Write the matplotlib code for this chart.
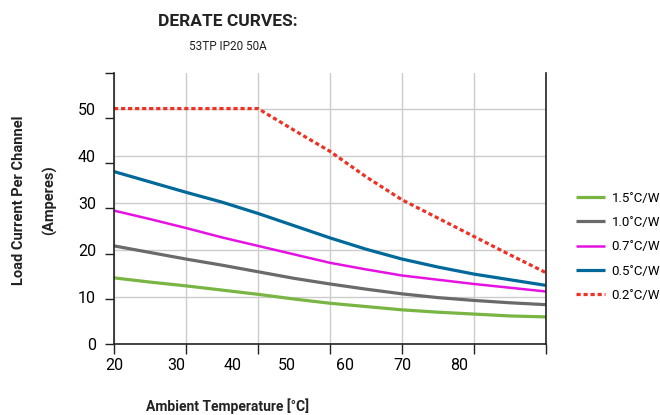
import matplotlib
matplotlib.use("Agg")
import matplotlib.pyplot as plt
from matplotlib import font_manager

# ---- data ----
temps = [20, 25, 30, 35, 40, 45, 50, 55, 60, 65, 70, 75, 80]
s15 = [14.0, 13.1, 12.3, 11.4, 10.5, 9.5, 8.6, 7.9, 7.2, 6.7, 6.3, 5.9, 5.7]
s10 = [20.8, 19.4, 18.0, 16.7, 15.3, 13.9, 12.7, 11.6, 10.6, 9.8, 9.2, 8.7, 8.3]
s07 = [28.3, 26.5, 24.6, 22.6, 20.8, 19.0, 17.2, 15.8, 14.5, 13.6, 12.7, 11.9, 11.1]
s05 = [36.6, 34.4, 32.2, 30.1, 27.7, 25.1, 22.5, 20.1, 18.0, 16.3, 14.8, 13.6, 12.4]
s02 = [50.0, 50.0, 50.0, 50.0, 50.0, 45.4, 40.9, 35.5, 30.6, 26.7, 22.8, 18.9, 15.1]
series_labels = ["1.5˚C/W", "1.0˚C/W", "0.7˚C/W", "0.5˚C/W", "0.2˚C/W"]
grid_x = [20, 30, 40, 50, 60, 70, 80]
x_tick_labels = ["20", "30", "40", "50", "60", "70", "80"]
x_label_pos = [20, 28.6, 36.4, 44.0, 52.1, 60.0, 68.0]
y_tick_vals = [0, 10, 20, 30, 40, 50]

names = {f.name for f in font_manager.fontManager.ttflist}
cond = "Liberation Sans Narrow" if "Liberation Sans Narrow" in names else "Roboto"
fam = [cond, "DejaVu Sans"]
plt.rcParams["font.family"] = fam

fig = plt.figure(figsize=(6.6, 4.15), dpi=100)
ax = fig.add_axes([114/660, 1-343.7/415, (546-114)/660, (343.7-73.3)/415])

ax.set_xlim(20, 80)
ax.set_ylim(0, 57.5)

colors = ["#79b543", "#6a6a6a", "#e512e3", "#00699a", "#ee3124"]
ax.plot(temps, s15, color=colors[0], lw=2.3, label=series_labels[0], solid_capstyle="butt")
ax.plot(temps, s10, color=colors[1], lw=2.3, label=series_labels[1], solid_capstyle="butt")
ax.plot(temps, s07, color=colors[2], lw=1.8, label=series_labels[2], solid_capstyle="butt")
ax.plot(temps, s05, color=colors[3], lw=2.3, label=series_labels[3], solid_capstyle="butt")
ax.plot(temps, s02, color=colors[4], lw=2.3, label=series_labels[4], linestyle=(0, (1.3, 0.9)))

# x: gridlines / tick marks at 10-degree steps, labels placed as in original
ax.xaxis.remove_overlapping_locs = False
ax.set_xticks(grid_x)
ax.set_xticklabels([])
ax.set_xticks(x_label_pos, minor=True)
ax.set_xticklabels(x_tick_labels, minor=True, fontsize=11.5)
ax.tick_params(axis="x", which="major", direction="out", length=7, width=1, color="#222222")
ax.tick_params(axis="x", which="minor", length=0, pad=10)

# y: labelled gridlines, tick marks at even steps
ax.yaxis.remove_overlapping_locs = False
ax.set_yticks(y_tick_vals)
ax.set_yticklabels([str(v) for v in y_tick_vals], fontsize=11.5)
ax.tick_params(axis="y", which="major", length=0, pad=13)
ax.set_yticks([57.5 * k / 6 for k in range(7)], minor=True)
ax.tick_params(axis="y", which="minor", direction="out", length=6.5, width=1, color="#222222")

ax.grid(True, which="major", color="#cccccc", lw=1)
ax.set_axisbelow(True)
for s in ["left", "bottom", "right"]:
    ax.spines[s].set_color("#222222")
    ax.spines[s].set_linewidth(1.2)
ax.spines["top"].set_visible(False)

fig.text(228/660, 1-22/415, "DERATE CURVES:", ha="center", va="center", fontsize=12.5, fontweight="bold", color="#222222")
fig.text(228/660, 1-47/415, "53TP IP20 50A", ha="center", va="center", fontsize=8.5, color="#222222")
fig.text(228/660, 1-406/415, "Ambient Temperature [°C]", ha="center", va="center", fontsize=10, fontweight="bold", color="#222222")
fig.text(19/660, 1-200/415, "Load Current Per Channel", ha="center", va="center", rotation=90, fontsize=10.5, fontweight="bold", color="#222222")
fig.text(50/660, 1-200/415, "(Amperes)", ha="center", va="center", rotation=90, fontsize=10.5, fontweight="bold", color="#222222")

leg = fig.legend(loc="upper left", bbox_to_anchor=(564/660, 1-180/415), frameon=False,
                 fontsize=9.5, handlelength=2.2, handletextpad=0.5, labelspacing=0.85)

fig.savefig("out.png", dpi=100)
